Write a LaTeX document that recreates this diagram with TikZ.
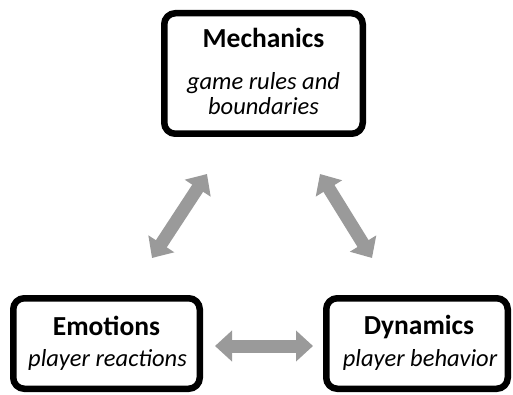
\documentclass[tikz,border=0pt]{standalone}
\usepackage{fontspec}
\setmainfont{Carlito}
\usetikzlibrary{arrows.meta}
\definecolor{arrowgray}{HTML}{9A9A9A}
\tikzset{
  card/.style={draw=black, line width=6.5pt, rounded corners=11pt, fill=white, inner sep=0pt},
  ttl/.style={font=\fontsize{27.5}{30}\selectfont\bfseries, anchor=base, inner sep=0pt},
  sub/.style={font=\fontsize{24.5}{26}\selectfont\itshape, anchor=base, inner sep=0pt},
  bigarrow/.style={draw=arrowgray, line width=13pt, {Triangle[width=30pt,length=17pt]}-{Triangle[width=30pt,length=17pt]}}
}
\begin{document}
\begin{tikzpicture}[x=1pt,y=-1pt]
\useasboundingbox (0,0) rectangle (513,395);
% boxes (outer edges: mech 161-366 x 10-137; emo 10-203 x 295-392; dyn 323-511 x 295-392)
\node[card, minimum width=198.5pt, minimum height=120.5pt] (mech) at (263.5,73.5) {};
\node[card, minimum width=186.5pt, minimum height=90.5pt] (emo) at (106.5,343.5) {};
\node[card, minimum width=181.5pt, minimum height=90.5pt] (dyn) at (417,343.5) {};
% texts
\node[ttl] (mechT) at (263.5,48) {Mechanics};
\node[sub] (mechA) at (263.5,89.5) {game rules and};
\node[sub] (mechB) at (263.5,115) {boundaries};
\node[ttl] (emoT) at (106.5,335) {Emotions};
\node[sub] (emoA) at (107.5,366.5) {player reactions};
\node[ttl] (dynT) at (419,334) {Dynamics};
\node[sub] (dynA) at (420,366.5) {player behavior};
% arrows
\coordinate (a1) at (152,258);
\coordinate (a2) at (207,174);
\coordinate (b1) at (320,174);
\coordinate (b2) at (372,258);
\coordinate (c1) at (215,346);
\coordinate (c2) at (313,346);
\draw[bigarrow] (a1) -- (a2);
\draw[bigarrow] (b1) -- (b2);
\draw[bigarrow] (c1) -- (c2);
\end{tikzpicture}
\end{document}
